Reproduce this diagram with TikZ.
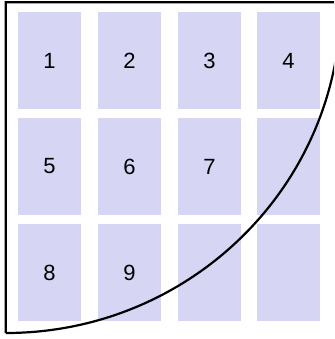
\documentclass[tikz,border=0pt]{standalone}
\usepackage{fontspec}
\setmainfont{Liberation Sans}
\definecolor{cellfill}{RGB}{214,214,244}
\tikzset{
  cell/.style={fill=cellfill, draw=none, minimum width=63pt, minimum height=97pt, inner sep=0pt, font=\fontsize{22}{22}\selectfont},
  border/.style={draw=black, line width=2.2pt, line join=miter}
}
\begin{document}
\begin{tikzpicture}[x=1pt,y=-1pt]
\useasboundingbox (0,0) rectangle (334,339);
\node[cell] (c1) at (49.5,60.5) {1};
\node[cell] (c2) at (129.5,60.5) {2};
\node[cell] (c3) at (209.5,60.5) {3};
\node[cell] (c4) at (288.5,60.5) {4};
\node[cell] (c5) at (49.5,166.5) {5};
\node[cell] (c6) at (129.5,166.5) {6};
\node[cell] (c7) at (209.5,166.5) {7};
\node[cell] (c8) at (288.5,166.5) {};
\node[cell] (c9) at (49.5,272.5) {8};
\node[cell] (c10) at (129.5,272.5) {9};
\node[cell] (c11) at (209.5,272.5) {};
\node[cell] (c12) at (288.5,272.5) {};
\begin{scope}
\clip (0,0) rectangle (334,339);
\coordinate (bl) at (5.8,333);
\coordinate (tl) at (5.8,2.2);
\coordinate (tr) at (340.8,2.2);
\draw[border] (bl) -- (tl) -- (tr) arc[start angle=0, end angle=90, x radius=335, y radius=330.8];
\end{scope}
\end{tikzpicture}
\end{document}
